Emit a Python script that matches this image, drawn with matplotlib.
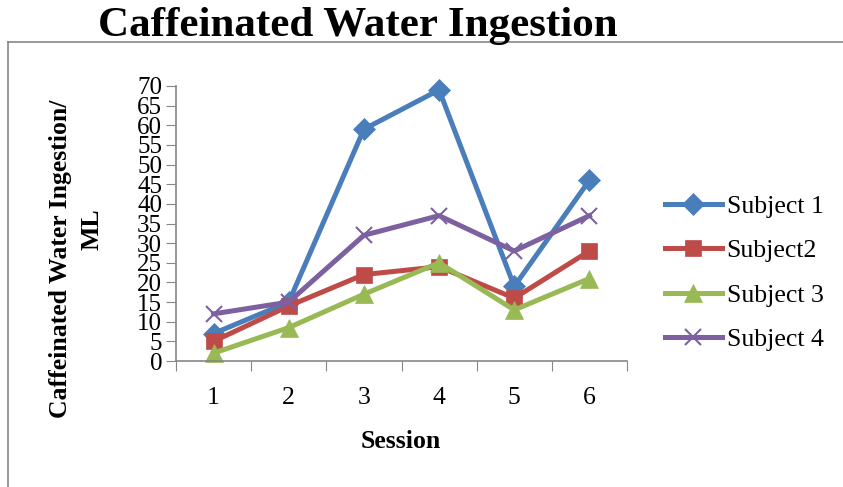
import numpy as np
import matplotlib
matplotlib.use('Agg')
import matplotlib.pyplot as plt
from matplotlib.lines import Line2D

plt.rcParams['font.family'] = ['Liberation Serif', 'DejaVu Serif']

# data
sessions = [1, 2, 3, 4, 5, 6]
subject1 = [7, 15, 59, 69, 19, 46]
subject2 = [5, 14, 22, 24, 16, 28]
subject3 = [2, 8.5, 17, 25, 13, 21]
subject4 = [12, 15, 32, 37, 28, 37]
names = ['Subject 1', 'Subject2', 'Subject 3', 'Subject 4']
yticks = list(range(0, 75, 5))

colors = ['#4A7EBB', '#BE4B48', '#98B954', '#7D60A0']
markers = ['D', 's', '^', 'x']
msizes = [11, 12, 13, 12]
FS = 18.5

fig = plt.figure(figsize=(8.43, 4.87), dpi=100)
ax = fig.add_axes([176/843, 1-361/487, (627-176)/843, (361-86)/487])

for vals, c, m, ms in zip([subject1, subject2, subject3, subject4], colors, markers, msizes):
    ax.plot(sessions, vals, color=c, lw=3.6, marker=m, markersize=ms,
            markeredgewidth=1.5 if m == 'x' else 0.5, markeredgecolor=c, markerfacecolor=c,
            clip_on=False)

ax.set_xlim(0.5, 6.5)
ax.set_ylim(0, 70)
ax.set_yticks(yticks)
ax.set_yticklabels([str(v) for v in yticks], fontsize=18)
ax.set_xticks(np.arange(0.5, 7, 1))
ax.set_xticklabels([])
ax.set_xticks(sessions, minor=True)
ax.set_xticklabels([str(s) for s in sessions], minor=True, fontsize=FS)
ax.tick_params(axis='x', which='minor', length=0, pad=19)
ax.tick_params(axis='x', which='major', length=7, color='#868686', direction='out')
ax.tick_params(axis='y', length=7, color='#868686', direction='out', pad=3)
for s in ['top', 'right']:
    ax.spines[s].set_visible(False)
for s in ['left', 'bottom']:
    ax.spines[s].set_color('#868686')
    ax.spines[s].set_linewidth(1.2)

fig.text(401/843, 1-442/487, 'Session', ha='center', va='center',
         fontsize=FS, fontweight='bold')
fig.text(60/843, 1-259/487, 'Caffeinated Water Ingestion/', rotation=90,
         ha='center', va='center', fontsize=FS, fontweight='bold')
fig.text(92/843, 1-229/487, 'ML', rotation=90,
         ha='center', va='center', fontsize=FS, fontweight='bold')

fig.text(358/843, 1-26/487, 'Caffeinated Water Ingestion', ha='center', va='center',
         fontsize=31, fontweight='bold')

# outer chart frame
fig.add_artist(Line2D([8/843, 8/843], [0, 1-42/487], transform=fig.transFigure,
                      color='#868686', lw=1.2))
fig.add_artist(Line2D([8/843, 1], [1-42/487, 1-42/487], transform=fig.transFigure,
                      color='#868686', lw=1.2))

handles = [Line2D([], [], color=c, lw=3.6, marker=m, markersize=ms,
                  markeredgewidth=1.5 if m == 'x' else 0.5, markeredgecolor=c)
           for c, m, ms in zip(colors, markers, msizes)]
fig.legend(handles, names, loc='center left', bbox_to_anchor=(665/843, 1-273/487),
           frameon=False, fontsize=FS, handlelength=2.2, handletextpad=0.2,
           labelspacing=0.82, borderpad=0, borderaxespad=0)

fig.savefig('out.png', dpi=100)
